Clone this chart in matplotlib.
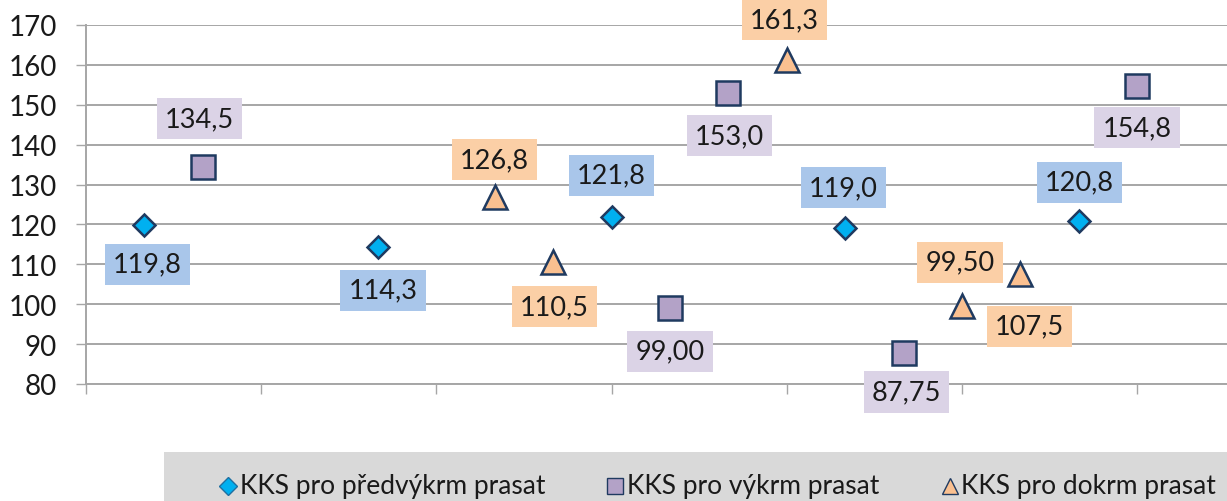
import matplotlib
matplotlib.use("Agg")
import matplotlib.pyplot as plt
from matplotlib.lines import Line2D
from matplotlib.patches import Rectangle

plt.rcParams['font.family'] = ['Lato', 'DejaVu Sans']

# ---- data ----
series_names = ["KKS pro předvýkrm prasat", "KKS pro výkrm prasat", "KKS pro dokrm prasat"]
x_pred = [1, 5, 9, 13, 17]
v_pred = [119.8, 114.3, 121.8, 119.0, 120.8]
lab_pred = ["119,8", "114,3", "121,8", "119,0", "120,8"]
x_vyk = [2, 10, 11, 14, 18]
v_vyk = [134.5, 99.00, 153.0, 87.75, 154.8]
lab_vyk = ["134,5", "99,00", "153,0", "87,75", "154,8"]
x_dok = [7, 8, 12, 15, 16]
v_dok = [126.8, 110.5, 161.3, 99.50, 107.5]
lab_dok = ["126,8", "110,5", "161,3", "99,50", "107,5"]
y_ticks = [80, 90, 100, 110, 120, 130, 140, 150, 160, 170]
x_ticks = [0, 3, 6, 9, 12, 15, 18]

# ---- label offsets (pixels) ----
off_pred = [(3, -39), (5, -43), (0, 42), (-2, 41), (1, 39)]
off_vyk = [(-3, 48), (0, -43), (1, -43), (3, -39), (0, -42)]
off_dok = [(0, 38), (1, -44), (-2, 40), (-2, 44), (9, -52)]

W, H = 1227, 502
fig = plt.figure(figsize=(W / 100, H / 100), dpi=100)
ax = fig.add_axes([86 / W, (H - 385) / H, 1 - 86 / W, (385 - 26) / H])
ax.set_xlim(0, 19.54)
ax.set_ylim(80, 170)

grid_c = '#a6a6a6'
ax.set_yticks(y_ticks)
ax.set_xticks(x_ticks)
ax.set_xticklabels([])
ax.yaxis.grid(True, color=grid_c, linewidth=1.4)
ax.set_axisbelow(True)
for s in ['top', 'right']:
    ax.spines[s].set_visible(False)
for s in ['left', 'bottom']:
    ax.spines[s].set_color(grid_c)
    ax.spines[s].set_linewidth(1.4)
ax.tick_params(axis='y', length=7.2, width=1.0, color=grid_c, pad=13.5,
               labelsize=20, labelcolor='#1a1a1a')
ax.tick_params(axis='x', length=7.2, width=1.0, color=grid_c)

edge = '#1f3a60'
styles = [
    dict(marker='D', mfc='#00b0f0', ms=11.5, box='#a9c6ea'),
    dict(marker='s', mfc='#b3a2c7', ms=17, box='#dbd3e6'),
    dict(marker='^', mfc='#fac090', ms=17, box='#fbcfa6'),
]
data = [(x_pred, v_pred, lab_pred, off_pred),
        (x_vyk, v_vyk, lab_vyk, off_vyk),
        (x_dok, v_dok, lab_dok, off_dok)]

for (xs, vs, labs, offs), st in zip(data, styles):
    ax.plot(xs, vs, linestyle='none', marker=st['marker'], mfc=st['mfc'],
            mec=edge, mew=1.8, ms=st['ms'], zorder=4, clip_on=False)
    for x, v, lab, off in zip(xs, vs, labs, offs):
        ax.annotate(lab, (x, v), xytext=off, textcoords='offset pixels',
                    ha='center', va='center', fontsize=19.5, color='#1a1a1a',
                    bbox=dict(boxstyle='square,pad=0.3', fc=st['box'], ec='none'),
                    zorder=5, annotation_clip=False)

# ---- legend (manual, at bottom) ----
fig.patches.append(Rectangle((164 / W, 0), 1 - 164 / W, (H - 453) / H,
                             transform=fig.transFigure, fc='#d9d9d9', ec='none', zorder=0))
leg_y = (H - 487) / H
leg_items = [(228, 240), (615, 627), (950, 961)]
leg_ms = [9, 12, 12]
for (mx, tx), st, name, ms in zip(leg_items, styles, series_names, leg_ms):
    fig.lines.append(Line2D([mx / W], [leg_y], transform=fig.transFigure,
                            marker=st['marker'], mfc=st['mfc'], mec=edge if st['marker'] != 'D' else '#1f6fa0',
                            mew=1.0, ms=ms, linestyle='none'))
    fig.text(tx / W, leg_y, name, ha='left', va='center', fontsize=19, color='#1a1a1a')

fig.savefig('out.png', dpi=100)
